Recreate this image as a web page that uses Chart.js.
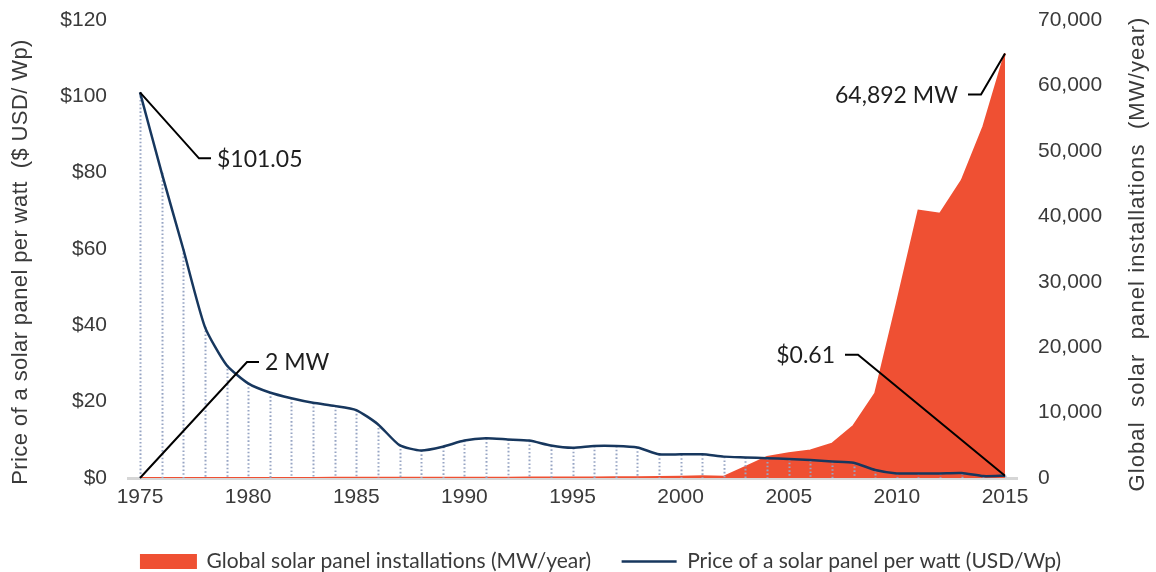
<!DOCTYPE html>
<html>
<head>
<meta charset="utf-8">
<script src="https://cdn.jsdelivr.net/npm/chart.js@4.4.1/dist/chart.umd.min.js"></script>
<style>
  html, body { margin: 0; padding: 0; background: #ffffff; }
  #wrap { width: 1156px; height: 572px; position: relative; }
</style>
</head>
<body>
<div id="wrap"><canvas id="chart"></canvas></div>
<script>
// Years on the horizontal axis
const years = [
  1975, 1976, 1977, 1978, 1979, 1980, 1981, 1982, 1983, 1984,
  1985, 1986, 1987, 1988, 1989, 1990, 1991, 1992, 1993, 1994,
  1995, 1996, 1997, 1998, 1999, 2000, 2001, 2002, 2003, 2004,
  2005, 2006, 2007, 2008, 2009, 2010, 2011, 2012, 2013, 2014, 2015
];

// Price of a solar panel per watt (USD/Wp)
const pricePerWatt = [
  101.05, 80.0, 60.0, 39.6, 29.6, 24.8, 22.4, 20.9, 19.7, 18.9,
  17.8, 14.1, 8.6, 7.2, 8.2, 9.8, 10.4, 10.1, 9.8, 8.5,
  7.9, 8.4, 8.4, 8.0, 6.2, 6.2, 6.2, 5.6, 5.4, 5.2,
  5.0, 4.7, 4.3, 4.0, 2.1, 1.2, 1.2, 1.2, 1.3, 0.5, 0.61
];

// Global solar panel installations (MW/year)
const installationsMW = [
  2, 3, 4, 6, 8, 10, 12, 15, 18, 20,
  22, 25, 30, 35, 40, 45, 50, 55, 60, 65,
  70, 80, 100, 120, 150, 200, 250, 200, 1700, 3200,
  3800, 4200, 5250, 8000, 12950, 26700, 40850, 40400, 45500, 53700, 64892
];

// Tick labels
const xTickYears = [1975, 1980, 1985, 1990, 1995, 2000, 2005, 2010, 2015];
const priceTicks = [0, 20, 40, 60, 80, 100, 120];
const installTicks = [0, 10000, 20000, 30000, 40000, 50000, 60000, 70000];

// Axis titles
const priceAxisTitle = 'Price of a solar panel per watt  ($ USD/ Wp)';
const installAxisTitle = 'Global  solar  panel installations  (MW/year)';

const ORANGE = '#EF5033';
const NAVY = '#17375E';
const TEXT = '#3a3a3a';
const TICK_FONT = { family: '"Liberation Sans", Arial, sans-serif', size: 21 };
const NOTE_FONT = '23px Lato, "Open Sans", sans-serif';

const fmtInt = v => Math.round(v).toLocaleString('en-US');

// Fixed-width vertical axes; their end labels may overhang the plot edges
const fixVertical = width => s => {
  s.width = width;
  s.paddingTop = 0;
  s.paddingBottom = 0;
};

// Dotted drop lines from each price point down to the baseline
const dropLines = {
  id: 'dropLines',
  beforeDatasetDraw(chart, args) {
    if (args.index !== 1) return;
    const { ctx, scales } = chart;
    const x = scales.x, y = scales.y;
    ctx.save();
    ctx.strokeStyle = '#97A5C4';
    ctx.lineWidth = 2;
    ctx.setLineDash([1.6, 2.2]);
    years.forEach((yr, i) => {
      const px = Math.round(x.getPixelForValue(yr)) + 0.5;
      ctx.beginPath();
      ctx.moveTo(px, y.getPixelForValue(pricePerWatt[i]));
      ctx.lineTo(px, y.getPixelForValue(0));
      ctx.stroke();
    });
    ctx.restore();
  }
};

// Leader-line callouts for the first and last values of each series
const callouts = {
  id: 'callouts',
  afterDatasetsDraw(chart) {
    const { ctx, scales } = chart;
    const last = years.length - 1;
    const notes = [
      { x: years[0], y: pricePerWatt[0], axis: 'y', text: '$' + pricePerWatt[0].toFixed(2), dx: 59, dy: 66, run: 12 },
      { x: years[0], y: installationsMW[0], axis: 'y2', text: fmtInt(installationsMW[0]) + ' MW', dx: 107, dy: -116, run: 12 },
      { x: years[last], y: pricePerWatt[last], axis: 'y', text: '$' + pricePerWatt[last].toFixed(2), dx: -147, dy: -121, run: -13 },
      { x: years[last], y: installationsMW[last], axis: 'y2', text: fmtInt(installationsMW[last]) + ' MW', dx: -24, dy: 41, run: -13 }
    ];
    ctx.save();
    ctx.strokeStyle = '#000000';
    ctx.lineWidth = 2;
    ctx.font = NOTE_FONT;
    ctx.fillStyle = '#1e1e1e';
    ctx.textBaseline = 'middle';
    notes.forEach(n => {
      const ax = scales.x.getPixelForValue(n.x);
      const ay = scales[n.axis].getPixelForValue(n.y);
      const ex = ax + n.dx, ey = ay + n.dy;
      const tx = ex + n.run;
      ctx.beginPath();
      ctx.moveTo(ax, ay);
      ctx.lineTo(ex, ey);
      ctx.lineTo(tx, ey);
      ctx.stroke();
      ctx.textAlign = n.run > 0 ? 'left' : 'right';
      ctx.fillText(n.text, tx + (n.run > 0 ? 6 : -10), ey + 1);
    });
    ctx.restore();
  }
};

// Vertical axis titles, both reading bottom-to-top
const axisTitles = {
  id: 'axisTitles',
  afterDraw(chart) {
    const { ctx } = chart;
    const draw = (text, cx, cy, spacing) => {
      ctx.save();
      ctx.translate(cx, cy);
      ctx.rotate(-Math.PI / 2);
      ctx.font = '22px "Liberation Sans", Arial, sans-serif';
      if ('letterSpacing' in ctx) ctx.letterSpacing = spacing + 'px';
      ctx.fillStyle = TEXT;
      ctx.textAlign = 'center';
      ctx.textBaseline = 'middle';
      ctx.fillText(text, 0, 0);
      ctx.restore();
    };
    draw(priceAxisTitle, 21, 262, 0.4);
    draw(installAxisTitle, 1138, 254, 1.1);
  }
};

const chart = new Chart(document.getElementById('chart'), {
  type: 'line',
  data: {
    datasets: [
      {
        label: 'Global solar panel installations (MW/year)',
        data: years.map((yr, i) => ({ x: yr, y: installationsMW[i] })),
        yAxisID: 'y2',
        borderColor: ORANGE,
        backgroundColor: ORANGE,
        borderWidth: 2,
        fill: 'origin',
        pointRadius: 0,
        pointStyle: 'rect',
        tension: 0,
        order: 1
      },
      {
        label: 'Price of a solar panel per watt (USD/Wp)',
        data: years.map((yr, i) => ({ x: yr, y: pricePerWatt[i] })),
        yAxisID: 'y',
        borderColor: NAVY,
        backgroundColor: NAVY,
        borderWidth: 2.5,
        fill: false,
        pointRadius: 0,
        pointStyle: 'line',
        tension: 0.2,
        order: 0
      }
    ]
  },
  options: {
    responsive: true,
    maintainAspectRatio: false,
    devicePixelRatio: 1,
    animation: false,
    events: [],
    layout: { padding: { top: 20, left: 46, right: 0, bottom: 0 } },
    plugins: {
      tooltip: { enabled: false },
      legend: {
        position: 'bottom',
        maxHeight: 51.5,
        labels: {
          usePointStyle: true,
          pointStyleWidth: 55,
          boxHeight: 13,
          padding: 30.5,
          color: TEXT,
          font: { family: 'Lato, "Open Sans", sans-serif', size: 21 },
          sort: (a, b) => a.datasetIndex - b.datasetIndex
        }
      }
    },
    scales: {
      x: {
        type: 'linear',
        min: years[0] - 0.555,
        max: years[years.length - 1] + 0.555,
        afterBuildTicks: s => { s.ticks = xTickYears.map(v => ({ value: v })); },
        afterFit: s => { s.height = 42.5; },
        ticks: {
          autoSkip: false,
          maxRotation: 0,
          padding: 7,
          color: TEXT,
          font: TICK_FONT,
          callback: v => String(v)
        },
        grid: { display: false, drawTicks: false },
        border: { display: true, color: '#D6D6D6', width: 3 }
      },
      y: {
        type: 'linear',
        position: 'left',
        min: 0,
        max: 120,
        afterBuildTicks: s => { s.ticks = priceTicks.map(v => ({ value: v })); },
        afterFit: fixVertical(82),
        ticks: {
          padding: 21,
          color: TEXT,
          font: TICK_FONT,
          callback: v => '$' + v
        },
        grid: { display: false, drawTicks: false },
        border: { display: false }
      },
      y2: {
        type: 'linear',
        position: 'right',
        min: 0,
        max: 70000,
        afterBuildTicks: s => { s.ticks = installTicks.map(v => ({ value: v })); },
        afterFit: fixVertical(139),
        ticks: {
          padding: 21,
          color: TEXT,
          font: TICK_FONT,
          callback: v => fmtInt(v)
        },
        grid: { display: false, drawTicks: false },
        border: { display: false }
      }
    }
  },
  plugins: [dropLines, callouts, axisTitles]
});
</script>
</body>
</html>
